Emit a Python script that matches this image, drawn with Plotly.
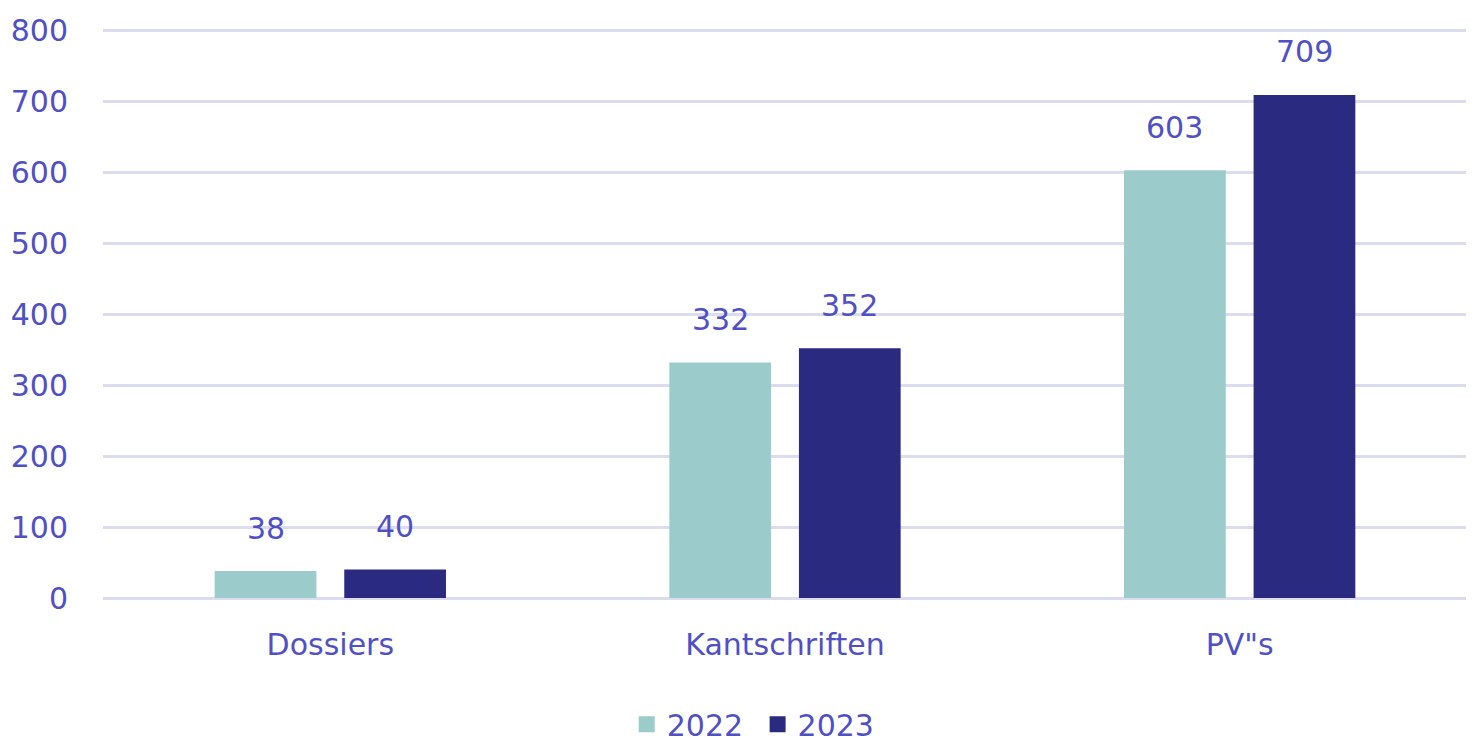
import plotly.graph_objects as go

categories = ["Dossiers", "Kantschriften", 'PV"s']
years = ["2022", "2023"]
values_2022 = [38, 332, 603]
values_2023 = [40, 352, 709]
y_ticks = [0, 100, 200, 300, 400, 500, 600, 700, 800]

text_color = "#5050c6"
font_family = "DejaVu Sans"
fsize = 30
colors = {"2022": "#9bcbcb", "2023": "#2a2a80"}

# page body adds an 8px offset; figure sized to compensate
W, H = 1466, 734
ML, MR, MT, MB = 95, 7, 21, 144
bargap, bargroupgap = 0.43, 0.215
plot_w = W - ML - MR
slot = plot_w / len(categories) * (1 - bargap) / 2

fig = go.Figure()
for yr, vals in zip(years, [values_2022, values_2023]):
    fig.add_trace(go.Bar(
        x=categories, y=vals, name=yr, showlegend=False,
        marker=dict(color=colors[yr], line=dict(width=0)),
    ))
# legend entries with larger square swatches
for yr in years:
    fig.add_trace(go.Scatter(
        x=[None], y=[None], name=yr + " ", mode="markers",
        marker=dict(symbol="square", size=16, color=colors[yr]),
    ))

annotations = []
for i, (yr, vals) in enumerate(zip(years, [values_2022, values_2023])):
    for cat, v in zip(categories, vals):
        annotations.append(dict(
            x=cat, y=v, text=str(v), showarrow=False,
            xref="x", yref="y", yanchor="middle", yshift=43,
            xshift=(-1 if i == 0 else 1) * slot / 2,
            font=dict(family=font_family, size=fsize, color=text_color),
        ))

fig.update_layout(
    width=W, height=H,
    margin=dict(l=ML, r=MR, t=MT, b=MB, autoexpand=False),
    paper_bgcolor="white", plot_bgcolor="white",
    barmode="group", bargap=bargap, bargroupgap=bargroupgap,
    font=dict(family=font_family, size=fsize, color=text_color),
    annotations=annotations,
    showlegend=True,
    legend=dict(orientation="h", x=0.48, xanchor="center", y=-0.222, yanchor="middle",
                font=dict(family=font_family, size=fsize, color=text_color),
                itemsizing="trace", traceorder="normal", itemwidth=30),
    xaxis=dict(showgrid=False, showline=False, ticks="outside", ticklen=20,
               tickcolor="rgba(0,0,0,0)", automargin=False,
               tickfont=dict(size=fsize, color=text_color)),
    yaxis=dict(range=[0, 802], tickvals=y_ticks, showgrid=True, gridcolor="#dcdcf0",
               gridwidth=2.5, zeroline=True, zerolinecolor="#dcdcf0", zerolinewidth=2.5,
               showline=False, ticks="outside", ticklen=28, tickcolor="rgba(0,0,0,0)",
               automargin=False, tickfont=dict(size=fsize, color=text_color)),
)

fig.write_html("out.html")
